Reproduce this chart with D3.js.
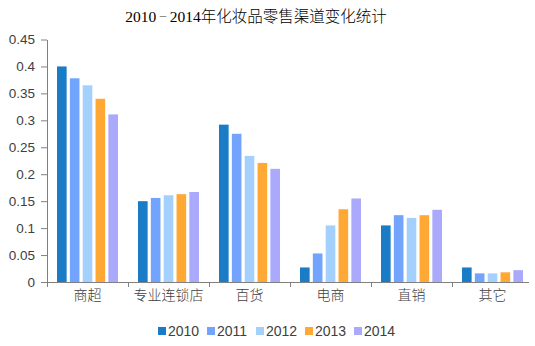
<!DOCTYPE html>
<html><head><meta charset="utf-8">
<script src="https://cdn.jsdelivr.net/npm/d3@7"></script>
<style>body{margin:0;background:#fff}svg{display:block}</style>
</head><body>
<svg id="c" width="535" height="346"></svg>
<script>
const categories = ["商超","专业连锁店","百货","电商","直销","其它"];
const years = ["2010","2011","2012","2013","2014"];
const v2010 = [0.40, 0.150, 0.292, 0.027, 0.105, 0.027];
const v2011 = [0.378, 0.156, 0.275, 0.053, 0.124, 0.016];
const v2012 = [0.365, 0.161, 0.234, 0.105, 0.119, 0.016];
const v2013 = [0.340, 0.163, 0.221, 0.135, 0.124, 0.018];
const v2014 = [0.311, 0.167, 0.210, 0.155, 0.134, 0.022];
const yTicks = [0,0.05,0.1,0.15,0.2,0.25,0.3,0.35,0.4,0.45];
const colors = ["#1a7bc6","#73a4fd","#a4d0fe","#ffa833","#aaa9fb"];
const series = [v2010,v2011,v2012,v2013,v2014];

const svg = d3.select("#c");
const x0 = d3.scaleBand().domain(categories).range([47,533]).padding(0);
const x1 = d3.scaleBand().domain(years).range([10,71]).paddingInner(0.25).paddingOuter(0);
const y = d3.scaleLinear().domain([0,0.45]).range([282,39.5]);

const title = svg.append("text").attr("x",256).attr("y",22).attr("text-anchor","middle")
  .attr("font-family","'Liberation Serif', 'Noto Sans CJK SC', serif").attr("font-size",15.5).attr("font-weight",300).attr("fill","#000");
title.append("tspan").text("2010");
title.append("tspan").attr("font-size",9).attr("dy",-2).text(" － ");
title.append("tspan").attr("dy",2).text("2014年化妆品零售渠道变化统计");

// y axis
const ya = svg.append("g").attr("transform","translate(47,0)")
  .call(d3.axisLeft(y).tickValues(yTicks).tickSize(6).tickSizeOuter(0).tickFormat(d=>d===0?"0":String(+d.toFixed(2))));
ya.select(".domain").attr("stroke","#808080");
ya.selectAll(".tick line").attr("stroke","#808080");
ya.selectAll("text").attr("font-family","'Liberation Sans', Arial, sans-serif").attr("font-size",13.5).attr("fill","#404040").attr("x",-12);

// bars
const g = svg.append("g");
categories.forEach((c,i)=>{
  series.forEach((s,j)=>{
    g.append("rect").attr("x",x0(c)+x1(years[j])).attr("width",x1.bandwidth())
      .attr("y",y(s[i])).attr("height",y(0)-y(s[i])).attr("fill",colors[j]);
  });
});

// x axis
const xa = svg.append("g").attr("transform","translate(0,282)")
  .call(d3.axisBottom(x0).tickSize(0).tickSizeOuter(0));
xa.select(".domain").attr("stroke","#808080").attr("d","M47,0.5H529");
xa.selectAll("text").attr("font-family","'Noto Sans CJK SC', sans-serif").attr("font-weight",300).attr("font-size",14).attr("fill","#404040").attr("dy","1.1em");
const bounds = categories.map(c=>x0(c));
svg.append("g").selectAll("line").data(bounds).join("line")
  .attr("x1",d=>d+0.5).attr("x2",d=>d+0.5).attr("y1",282).attr("y2",287).attr("stroke","#808080");

// legend
const lg = svg.append("g");
years.forEach((yr,j)=>{
  const lx = 158 + j*49;
  lg.append("rect").attr("x",lx).attr("y",327).attr("width",8).attr("height",8).attr("fill",colors[j]);
  lg.append("text").attr("x",lx+10).attr("y",336).attr("font-family","'Liberation Sans', Arial, sans-serif")
    .attr("font-size",14).attr("fill","#404040").text(yr);
});
</script>
</body></html>
